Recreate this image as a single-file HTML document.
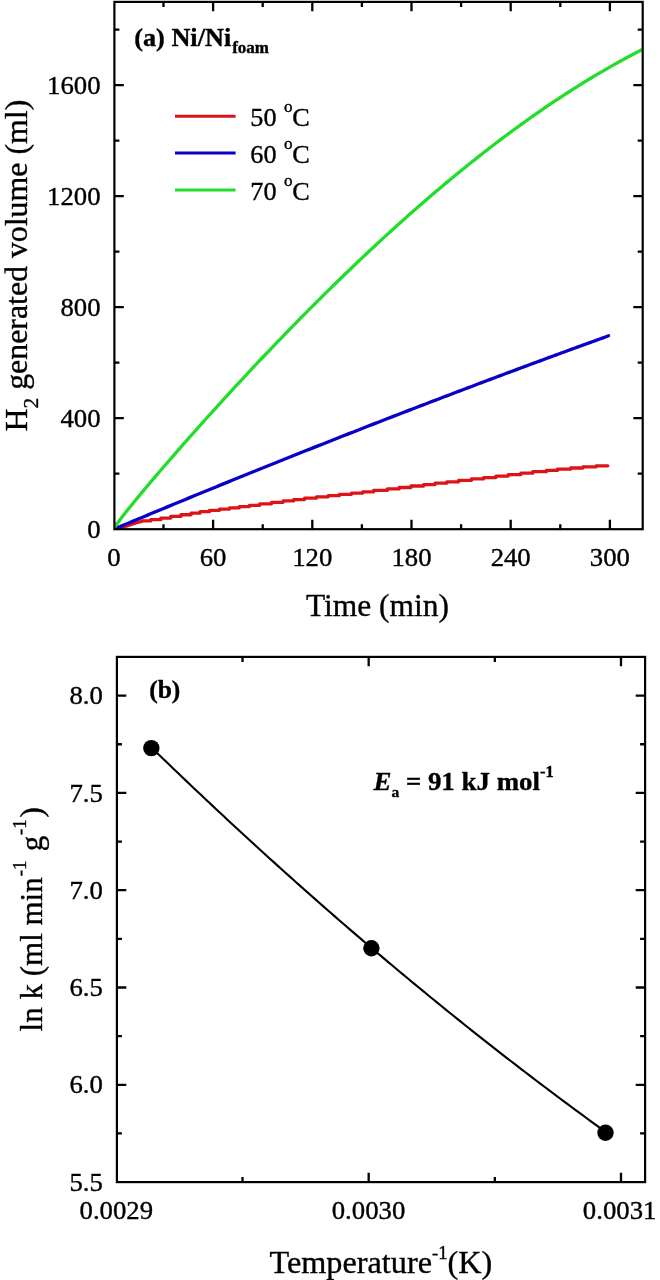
<!DOCTYPE html>
<html><head><meta charset="utf-8"><style>
html,body{margin:0;padding:0;background:#fff;}
body{width:660px;height:1280px;overflow:hidden;}
svg{display:block;will-change:transform;}
text{font-family:"Liberation Serif",serif;fill:#000;stroke:#000;stroke-width:0.35px;}
</style></head><body>
<svg width="660" height="1280" viewBox="0 0 660 1280">
<rect width="660" height="1280" fill="#fff"/>
<defs><clipPath id="ca"><rect x="114.4" y="1.9" width="528.3" height="527.3"/></clipPath></defs>
<g fill="none" stroke-width="3.3" stroke-linejoin="round" stroke-linecap="round" clip-path="url(#ca)">
<polyline stroke="#dc1418" points="113.9,529.2 115.36,528.87 116.83,528.52 118.29,528.16 119.75,527.8 121.22,527.42 122.68,527.04 124.14,526.65 125.61,526.25 127.07,525.84 128.53,525.42 129.99,525 131.46,524.54 132.92,524.03 134.38,523.5 135.85,522.98 137.31,522.49 138.77,522.07 140.24,521.76 141.7,521.5 141.7,520.91 150.7,520.91 150.7,519.65 160.8,519.65 160.8,518.1 170.8,518.1 170.8,516.46 180.9,516.46 180.9,514.77 191,514.77 191,513.14 200,513.14 200,511.7 209.5,511.7 209.5,510.35 219.5,510.35 219.5,509.07 229.5,509.07 229.5,507.85 239.3,507.85 239.3,506.61 249.5,506.61 249.5,505.3 259.7,505.3 259.7,503.86 271.5,503.86 271.5,502.32 283.1,502.32 283.1,500.89 293.6,500.89 293.6,499.53 304.5,499.53 304.5,498.15 316.4,498.15 316.4,496.79 328.2,496.79 328.2,495.53 339.5,495.53 339.5,494.28 351.4,494.28 351.4,493.04 362.7,493.04 362.7,491.81 373.6,491.81 373.6,490.39 387.3,490.39 387.3,488.89 399.1,488.89 399.1,487.48 410.9,487.48 410.9,486.01 423.6,486.01 423.6,484.58 435,484.58 435,483.22 446.8,483.22 446.8,481.84 458.6,481.84 458.6,480.4 471.4,480.4 471.4,478.95 483.6,478.95 483.6,477.53 495.9,477.53 495.9,476.08 508.2,476.08 508.2,474.59 520.9,474.59 520.9,473.14 532.7,473.14 532.7,471.7 546.4,471.7 546.4,470.41 557.4,470.41 557.4,469.22 570.7,469.22 570.7,468.02 582.9,468.02 582.9,466.9 596.1,466.9 596.1,465.86 607.8,465.86"/>
<polyline stroke="#0800c8" points="113.9,529.2 117.01,527.89 120.12,526.59 123.23,525.28 126.34,523.98 129.45,522.68 132.56,521.37 135.67,520.07 138.79,518.77 141.9,517.48 145.01,516.18 148.12,514.88 151.23,513.59 154.34,512.3 157.45,511 160.56,509.71 163.67,508.42 166.78,507.13 169.89,505.85 173,504.56 176.11,503.27 179.22,501.99 182.34,500.71 185.45,499.43 188.56,498.14 191.67,496.87 194.78,495.59 197.89,494.31 201,493.03 204.11,491.76 207.22,490.48 210.33,489.21 213.44,487.94 216.55,486.67 219.66,485.4 222.77,484.13 225.88,482.87 229,481.6 232.11,480.34 235.22,479.07 238.33,477.81 241.44,476.55 244.55,475.29 247.66,474.03 250.77,472.77 253.88,471.52 256.99,470.26 260.1,469.01 263.21,467.75 266.32,466.5 269.43,465.25 272.55,464 275.66,462.75 278.77,461.5 281.88,460.26 284.99,459.01 288.1,457.77 291.21,456.53 294.32,455.29 297.43,454.05 300.54,452.81 303.65,451.57 306.76,450.33 309.87,449.1 312.98,447.86 316.09,446.63 319.21,445.39 322.32,444.16 325.43,442.93 328.54,441.7 331.65,440.48 334.76,439.25 337.87,438.02 340.98,436.8 344.09,435.58 347.2,434.36 350.31,433.13 353.42,431.92 356.53,430.7 359.64,429.48 362.76,428.26 365.87,427.05 368.98,425.83 372.09,424.62 375.2,423.41 378.31,422.2 381.42,420.99 384.53,419.78 387.64,418.57 390.75,417.37 393.86,416.16 396.97,414.96 400.08,413.76 403.19,412.56 406.31,411.36 409.42,410.16 412.53,408.96 415.64,407.76 418.75,406.57 421.86,405.37 424.97,404.18 428.08,402.99 431.19,401.8 434.3,400.61 437.41,399.42 440.52,398.23 443.63,397.05 446.74,395.86 449.85,394.68 452.97,393.49 456.08,392.31 459.19,391.13 462.3,389.95 465.41,388.77 468.52,387.6 471.63,386.42 474.74,385.25 477.85,384.07 480.96,382.9 484.07,381.73 487.18,380.56 490.29,379.39 493.4,378.22 496.52,377.06 499.63,375.89 502.74,374.73 505.85,373.56 508.96,372.4 512.07,371.24 515.18,370.08 518.29,368.92 521.4,367.76 524.51,366.61 527.62,365.45 530.73,364.3 533.84,363.15 536.95,361.99 540.06,360.84 543.18,359.69 546.29,358.55 549.4,357.4 552.51,356.25 555.62,355.11 558.73,353.96 561.84,352.82 564.95,351.68 568.06,350.54 571.17,349.4 574.28,348.26 577.39,347.13 580.5,345.99 583.61,344.86 586.73,343.72 589.84,342.59 592.95,341.46 596.06,340.33 599.17,339.2 602.28,338.08 605.39,336.95 608.5,335.82"/>
<polyline stroke="#22dd2a" points="113.9,529.2 114.46,527.76 115.01,526.8 115.57,525.93 116.12,525.09 116.68,524.28 117.23,523.49 117.79,522.72 118.34,521.95 118.9,521.19 119.45,520.45 120.01,519.71 120.56,518.97 121.12,518.24 121.67,517.51 122.23,516.79 122.78,516.08 123.34,515.36 123.89,514.65 124.45,513.94 125,513.24 125.56,512.53 126.11,511.83 126.67,511.13 127.22,510.44 127.78,509.74 128.33,509.05 128.89,508.36 129.44,507.67 130,506.98 130.5,506.36 133.09,503.17 135.68,500.01 138.27,496.87 140.86,493.75 143.45,490.64 146.04,487.55 148.63,484.48 151.22,481.42 153.81,478.37 156.4,475.33 158.99,472.3 161.59,469.28 164.18,466.27 166.77,463.27 169.36,460.28 171.95,457.3 174.54,454.33 177.13,451.36 179.72,448.4 182.31,445.45 184.9,442.51 187.49,439.58 190.08,436.65 192.67,433.73 195.26,430.82 197.85,427.91 200.44,425.01 203.03,422.12 205.62,419.24 208.21,416.36 210.8,413.49 213.39,410.62 215.98,407.77 218.58,404.92 221.17,402.07 223.76,399.23 226.35,396.4 228.94,393.58 231.53,390.76 234.12,387.95 236.71,385.15 239.3,382.35 241.89,379.56 244.48,376.78 247.07,374 249.66,371.23 252.25,368.47 254.84,365.71 257.43,362.96 260.02,360.22 262.61,357.49 265.2,354.76 267.79,352.03 270.38,349.32 272.97,346.61 275.57,343.91 278.16,341.21 280.75,338.53 283.34,335.85 285.93,333.17 288.52,330.51 291.11,327.85 293.7,325.19 296.29,322.55 298.88,319.91 301.47,317.28 304.06,314.66 306.65,312.04 309.24,309.43 311.83,306.83 314.42,304.24 317.01,301.65 319.6,299.07 322.19,296.5 324.78,293.94 327.37,291.38 329.96,288.83 332.56,286.29 335.15,283.75 337.74,281.23 340.33,278.71 342.92,276.2 345.51,273.7 348.1,271.2 350.69,268.72 353.28,266.24 355.87,263.77 358.46,261.3 361.05,258.85 363.64,256.4 366.23,253.96 368.82,251.53 371.41,249.11 374,246.69 376.59,244.29 379.18,241.89 381.77,239.5 384.36,237.12 386.95,234.75 389.55,232.38 392.14,230.03 394.73,227.68 397.32,225.34 399.91,223.01 402.5,220.69 405.09,218.38 407.68,216.08 410.27,213.78 412.86,211.5 415.45,209.22 418.04,206.95 420.63,204.7 423.22,202.45 425.81,200.21 428.4,197.97 430.99,195.75 433.58,193.54 436.17,191.34 438.76,189.14 441.35,186.96 443.94,184.78 446.54,182.61 449.13,180.46 451.72,178.31 454.31,176.17 456.9,174.04 459.49,171.93 462.08,169.82 464.67,167.72 467.26,165.63 469.85,163.55 472.44,161.48 475.03,159.42 477.62,157.37 480.21,155.33 482.8,153.3 485.39,151.28 487.98,149.27 490.57,147.27 493.16,145.28 495.75,143.3 498.34,141.34 500.93,139.38 503.53,137.43 506.12,135.49 508.71,133.57 511.3,131.65 513.89,129.74 516.48,127.85 519.07,125.96 521.66,124.09 524.25,122.23 526.84,120.38 529.43,118.53 532.02,116.7 534.61,114.88 537.2,113.08 539.79,111.28 542.38,109.49 544.97,107.72 547.56,105.95 550.15,104.2 552.74,102.46 555.33,100.73 557.92,99.01 560.52,97.3 563.11,95.61 565.7,93.92 568.29,92.25 570.88,90.59 573.47,88.94 576.06,87.3 578.65,85.67 581.24,84.06 583.83,82.45 586.42,80.86 589.01,79.28 591.6,77.72 594.19,76.16 596.78,74.62 599.37,73.09 601.96,71.57 604.55,70.06 607.14,68.57 609.73,67.08 612.32,65.61 614.91,64.16 617.51,62.71 620.1,61.28 622.69,59.86 625.28,58.45 627.87,57.05 630.46,55.67 633.05,54.3 635.64,52.94 638.23,51.6 640.82,50.27 643.41,48.95 646,47.64"/>
</g>
<path d="M163.5 529.2V524.2M163.5 1.9V6.9M213.1 529.2V519.8M213.1 1.9V11.3M262.7 529.2V524.2M262.7 1.9V6.9M312.3 529.2V519.8M312.3 1.9V11.3M361.89 529.2V524.2M361.89 1.9V6.9M411.49 529.2V519.8M411.49 1.9V11.3M461.09 529.2V524.2M461.09 1.9V6.9M510.69 529.2V519.8M510.69 1.9V11.3M560.29 529.2V524.2M560.29 1.9V6.9M609.89 529.2V519.8M609.89 1.9V11.3M114.4 473.7H119.4M642.7 473.7H637.7M114.4 418.2H123.8M642.7 418.2H633.3M114.4 362.7H119.4M642.7 362.7H637.7M114.4 307.2H123.8M642.7 307.2H633.3M114.4 251.7H119.4M642.7 251.7H637.7M114.4 196.2H123.8M642.7 196.2H633.3M114.4 140.7H119.4M642.7 140.7H637.7M114.4 85.2H123.8M642.7 85.2H633.3M114.4 29.7H119.4M642.7 29.7H637.7" stroke="#000" stroke-width="2.3" fill="none"/>
<rect x="114.4" y="1.9" width="528.3" height="527.3" fill="none" stroke="#000" stroke-width="2.2"/>
<text transform="translate(113.9,566.3) scale(1.07,1)" font-size="25" text-anchor="middle">0</text>
<text transform="translate(213.1,566.3) scale(1.07,1)" font-size="25" text-anchor="middle">60</text>
<text transform="translate(312.3,566.3) scale(1.07,1)" font-size="25" text-anchor="middle">120</text>
<text transform="translate(411.49,566.3) scale(1.07,1)" font-size="25" text-anchor="middle">180</text>
<text transform="translate(510.69,566.3) scale(1.07,1)" font-size="25" text-anchor="middle">240</text>
<text transform="translate(609.89,566.3) scale(1.07,1)" font-size="25" text-anchor="middle">300</text>
<text transform="translate(100.5,537.8) scale(1.07,1)" font-size="25" text-anchor="end">0</text>
<text transform="translate(100.5,426.8) scale(1.07,1)" font-size="25" text-anchor="end">400</text>
<text transform="translate(100.5,315.8) scale(1.07,1)" font-size="25" text-anchor="end">800</text>
<text transform="translate(100.5,204.8) scale(1.07,1)" font-size="25" text-anchor="end">1200</text>
<text transform="translate(100.5,93.8) scale(1.07,1)" font-size="25" text-anchor="end">1600</text>
<text transform="translate(377.5,615.5) scale(1.016,1)" font-size="31" text-anchor="middle">Time (min)</text>
<text transform="translate(26.6,431.6) rotate(-90) scale(1.028,1)" font-size="31">H<tspan font-size="21" dy="11">2</tspan><tspan dy="-11"> generated volume (ml)</tspan></text>
<text transform="translate(134.2,45.8) scale(1.03,1)" font-size="25.5" font-weight="bold">(a) Ni/Ni<tspan font-size="16.5" dy="7.3" dx="1">foam</tspan></text>
<line x1="175" y1="116.3" x2="235.6" y2="116.3" stroke="#dc1418" stroke-width="3"/>
<text transform="translate(250.3,125.9) scale(1.07,1)" font-size="24.5">50 <tspan font-size="16" dy="-14" dx="0.8">o</tspan><tspan dy="14" dx="-0.3">C</tspan></text>
<line x1="175" y1="153.1" x2="235.6" y2="153.1" stroke="#0800c8" stroke-width="3"/>
<text transform="translate(250.3,162.7) scale(1.07,1)" font-size="24.5">60 <tspan font-size="16" dy="-14" dx="0.8">o</tspan><tspan dy="14" dx="-0.3">C</tspan></text>
<line x1="175" y1="189.9" x2="235.6" y2="189.9" stroke="#22dd2a" stroke-width="3"/>
<text transform="translate(250.3,199.5) scale(1.07,1)" font-size="24.5">70 <tspan font-size="16" dy="-14" dx="0.8">o</tspan><tspan dy="14" dx="-0.3">C</tspan></text>
<polyline fill="none" stroke="#000" stroke-width="2.1" stroke-linejoin="round" points="151.3,747.33 155.12,751.03 158.93,754.73 162.75,758.42 166.57,762.1 170.38,765.77 174.2,769.44 178.02,773.09 181.83,776.74 185.65,780.38 189.47,784.01 193.28,787.64 197.1,791.26 200.92,794.86 204.74,798.46 208.55,802.06 212.37,805.64 216.19,809.22 220,812.79 223.82,816.35 227.64,819.9 231.45,823.44 235.27,826.98 239.09,830.51 242.9,834.03 246.72,837.54 250.54,841.04 254.35,844.54 258.17,848.03 261.99,851.51 265.8,854.98 269.62,858.44 273.44,861.9 277.25,865.35 281.07,868.79 284.89,872.22 288.71,875.64 292.52,879.06 296.34,882.47 300.16,885.87 303.97,889.26 307.79,892.64 311.61,896.02 315.42,899.39 319.24,902.75 323.06,906.1 326.87,909.44 330.69,912.78 334.51,916.11 338.32,919.43 342.14,922.74 345.96,926.04 349.77,929.34 353.59,932.62 357.41,935.9 361.22,939.17 365.04,942.44 368.86,945.69 372.67,948.94 376.49,952.18 380.31,955.41 384.13,958.64 387.94,961.85 391.76,965.06 395.58,968.26 399.39,971.45 403.21,974.63 407.03,977.81 410.84,980.97 414.66,984.13 418.48,987.28 422.29,990.43 426.11,993.56 429.93,996.69 433.74,999.81 437.56,1002.92 441.38,1006.02 445.19,1009.12 449.01,1012.2 452.83,1015.28 456.64,1018.35 460.46,1021.42 464.28,1024.47 468.09,1027.52 471.91,1030.56 475.73,1033.59 479.55,1036.61 483.36,1039.63 487.18,1042.63 491,1045.63 494.81,1048.62 498.63,1051.6 502.45,1054.58 506.26,1057.55 510.08,1060.5 513.9,1063.45 517.71,1066.4 521.53,1069.33 525.35,1072.26 529.16,1075.18 532.98,1078.09 536.8,1080.99 540.61,1083.88 544.43,1086.77 548.25,1089.65 552.06,1092.52 555.88,1095.38 559.7,1098.24 563.52,1101.08 567.33,1103.92 571.15,1106.75 574.97,1109.57 578.78,1112.39 582.6,1115.19 586.42,1117.99 590.23,1120.78 594.05,1123.56 597.87,1126.34 601.68,1129.1 605.5,1131.86"/>
<circle cx="151.35" cy="748.1" r="8.2" fill="#000"/>
<circle cx="371.4" cy="948.3" r="8.2" fill="#000"/>
<circle cx="605.5" cy="1132.8" r="8.2" fill="#000"/>
<path d="M242.51 1182.1V1177.1M242.51 656.9V661.9M368.67 1182.1V1172.7M368.67 656.9V666.3M494.83 1182.1V1177.1M494.83 656.9V661.9M620.99 1182.1V1172.7M620.99 656.9V666.3M116.9 1133.45H121.9M645.1 1133.45H640.1M116.9 1084.8H126.3M645.1 1084.8H635.7M116.9 1036.15H121.9M645.1 1036.15H640.1M116.9 987.5H126.3M645.1 987.5H635.7M116.9 938.85H121.9M645.1 938.85H640.1M116.9 890.2H126.3M645.1 890.2H635.7M116.9 841.55H121.9M645.1 841.55H640.1M116.9 792.9H126.3M645.1 792.9H635.7M116.9 744.25H121.9M645.1 744.25H640.1M116.9 695.6H126.3M645.1 695.6H635.7" stroke="#000" stroke-width="2.3" fill="none"/>
<rect x="116.9" y="656.9" width="528.2" height="525.2" fill="none" stroke="#000" stroke-width="2.2"/>
<text transform="translate(116.3,1219) scale(1.07,1)" font-size="25" text-anchor="middle">0.0029</text>
<text transform="translate(368.5,1219) scale(1.07,1)" font-size="25" text-anchor="middle">0.0030</text>
<text transform="translate(619.6,1219) scale(1.07,1)" font-size="25" text-anchor="middle">0.0031</text>
<text transform="translate(102.8,1190.7) scale(1.07,1)" font-size="25" text-anchor="end">5.5</text>
<text transform="translate(102.8,1093.4) scale(1.07,1)" font-size="25" text-anchor="end">6.0</text>
<text transform="translate(102.8,996.1) scale(1.07,1)" font-size="25" text-anchor="end">6.5</text>
<text transform="translate(102.8,898.8) scale(1.07,1)" font-size="25" text-anchor="end">7.0</text>
<text transform="translate(102.8,801.5) scale(1.07,1)" font-size="25" text-anchor="end">7.5</text>
<text transform="translate(102.8,704.2) scale(1.07,1)" font-size="25" text-anchor="end">8.0</text>
<text transform="translate(380.9,1272.6) scale(1.041,1)" font-size="31" text-anchor="middle">Temperature<tspan font-size="18" dy="-14">-1</tspan><tspan dy="14">(K)</tspan></text>
<text transform="translate(42.3,1031.4) rotate(-90)" font-size="31">ln k (ml min<tspan font-size="19" dy="-16" dx="0.9">-1</tspan><tspan dy="16" dx="1.5"> g</tspan><tspan font-size="19" dy="-16" dx="0.7">-1</tspan><tspan dy="16" dx="1.7">)</tspan></text>
<text transform="translate(149.2,697.7) scale(1.0,1)" font-size="25.5" font-weight="bold">(b)</text>
<text transform="translate(373.5,789.7) scale(1.034,1)" font-size="26" font-weight="bold"><tspan font-style="italic">E</tspan><tspan font-size="15" dy="7.6">a</tspan><tspan dy="-7.6"> = 91 kJ mol</tspan><tspan font-size="16" dy="-13">-1</tspan></text>
</svg>
</body></html>
